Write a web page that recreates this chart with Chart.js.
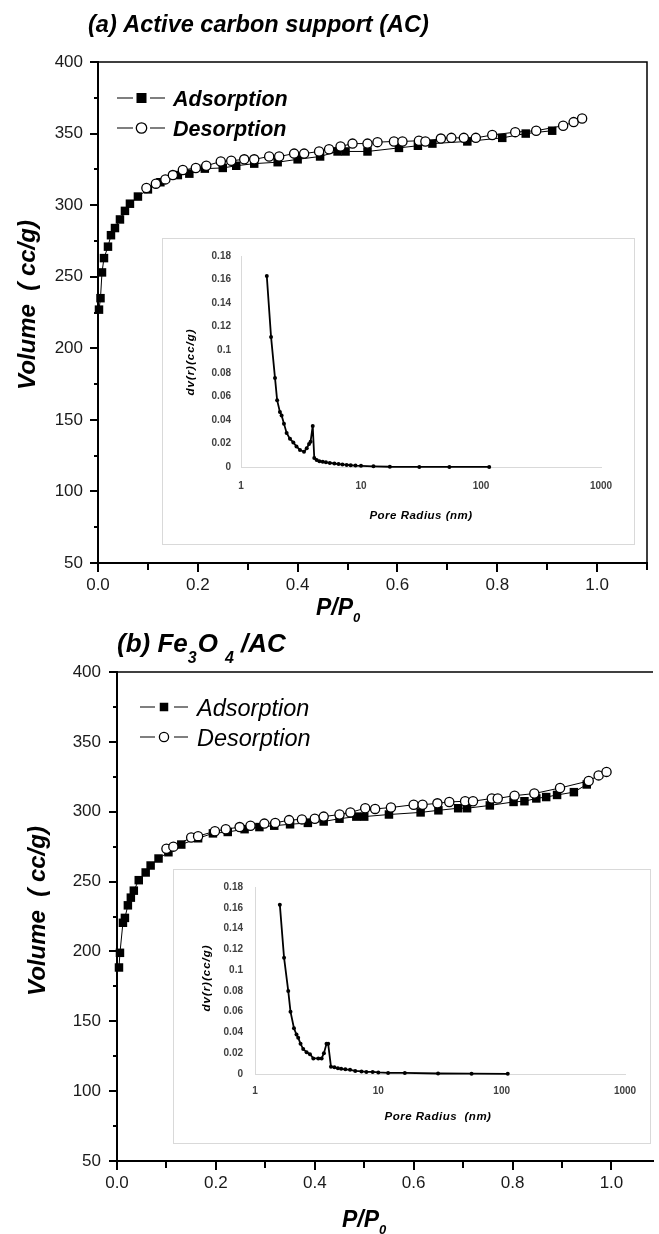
<!DOCTYPE html>
<html>
<head>
<meta charset="utf-8">
<title>N2 isotherms - AC and Fe3O4/AC</title>
<script src="https://cdn.jsdelivr.net/npm/chart.js@4.4.1/dist/chart.umd.min.js"></script>
<style>
  html, body { margin: 0; padding: 0; background: #fff; }
  #page { position: relative; width: 659px; height: 1234px; overflow: hidden; background: #fff; }
  canvas { position: absolute; }
</style>
</head>
<body>
<div id="page">
  <canvas id="mainA" width="659" height="640" style="left:0;top:0"></canvas>
  <canvas id="insetA" width="473" height="307" style="left:162px;top:238px"></canvas>
  <canvas id="mainB" width="659" height="617" style="left:0;top:617px"></canvas>
  <canvas id="insetB" width="478" height="275" style="left:173px;top:869px"></canvas>
</div>
<script>
// series names + tick labels
const seriesNames = ["Adsorption", "Desorption"];
const xTickLabels = ["0.0", "0.2", "0.4", "0.6", "0.8", "1.0"];
const volumeTicks = [50, 100, 150, 200, 250, 300, 350, 400];
const radiusTicks = [1, 10, 100, 1000];
const dvTickLabels = ["0", "0.02", "0.04", "0.06", "0.08", "0.1", "0.12", "0.14", "0.16", "0.18"];

// (a) active carbon - isotherm
const adsA_P = [0.002, 0.005, 0.008, 0.012, 0.02, 0.026, 0.034, 0.044, 0.054, 0.064, 0.08, 0.1, 0.125, 0.16, 0.183, 0.214, 0.25, 0.277, 0.313, 0.36, 0.40, 0.445, 0.48, 0.496, 0.54, 0.603, 0.641, 0.67, 0.74, 0.81, 0.857, 0.91];
const adsA_V = [227, 235, 253, 263, 271, 279, 284, 290, 296, 301, 306, 311, 316, 321, 322, 325.5, 326, 327.5, 329, 330, 332, 334, 337.5, 337.5, 337.5, 340, 341.5, 343, 344.5, 347, 350, 352];
const desA_P = [0.097, 0.116, 0.135, 0.15, 0.17, 0.196, 0.217, 0.246, 0.267, 0.293, 0.313, 0.343, 0.363, 0.393, 0.413, 0.443, 0.463, 0.486, 0.51, 0.54, 0.56, 0.593, 0.61, 0.643, 0.656, 0.687, 0.708, 0.733, 0.757, 0.79, 0.836, 0.878, 0.932, 0.953, 0.97];
const desA_V = [312, 315, 318, 321, 324.5, 326, 327.5, 330.5, 331, 332, 332, 334, 334, 336, 336, 337.5, 339, 341, 343, 343, 344, 344.5, 344.5, 345, 344.5, 346.5, 347, 347, 347, 349, 351, 352, 355.5, 358, 360.5];

// (a) inset - pore size distribution
const insetA_R = [1.64, 1.78, 1.92, 2.0, 2.11, 2.18, 2.28, 2.4, 2.56, 2.73, 2.9, 3.1, 3.35, 3.53, 3.69, 3.8, 3.96, 4.08, 4.27, 4.5, 4.8, 5.1, 5.5, 6.0, 6.5, 7.0, 7.6, 8.2, 9.0, 10.0, 12.7, 17.4, 30.6, 54.5, 117];
const insetA_DV = [0.163, 0.111, 0.076, 0.057, 0.047, 0.044, 0.037, 0.029, 0.024, 0.021, 0.0175, 0.0145, 0.013, 0.016, 0.0196, 0.0216, 0.035, 0.0077, 0.006, 0.005, 0.0045, 0.004, 0.0035, 0.003, 0.0025, 0.0022, 0.0018, 0.0015, 0.0012, 0.001, 0.0006, 0.0002, 0.0001, 0.0001, 0.0001];

// (b) Fe3O4/AC - isotherm
const adsB_P = [0.004, 0.006, 0.012, 0.016, 0.022, 0.028, 0.034, 0.044, 0.058, 0.068, 0.084, 0.104, 0.13, 0.164, 0.194, 0.224, 0.258, 0.288, 0.318, 0.35, 0.386, 0.418, 0.45, 0.484, 0.5, 0.55, 0.614, 0.65, 0.69, 0.708, 0.754, 0.802, 0.824, 0.848, 0.868, 0.89, 0.924, 0.95];
const adsB_V = [188.5, 199, 220.5, 224, 233, 238.5, 243.5, 251, 256.5, 261.5, 266.5, 271, 276.5, 281, 284.5, 285.5, 287.5, 289, 290, 291, 292, 293, 295, 296.5, 296.5, 298, 299.5, 301, 302.5, 302.5, 304.5, 307, 307.5, 309.5, 310.5, 312, 314, 319.5];
const desB_P = [0.1, 0.114, 0.15, 0.164, 0.198, 0.22, 0.248, 0.27, 0.298, 0.32, 0.348, 0.374, 0.4, 0.418, 0.45, 0.472, 0.502, 0.522, 0.554, 0.6, 0.618, 0.648, 0.672, 0.704, 0.72, 0.758, 0.77, 0.804, 0.844, 0.896, 0.954, 0.974, 0.99];
const desB_V = [273.5, 275, 281.5, 282.5, 286, 287.5, 289, 290, 291.5, 292, 294, 294.5, 295, 296.5, 298, 299.5, 302.5, 302, 303, 305, 305, 306, 307, 307.5, 307.5, 309.5, 309.5, 311.5, 313, 317, 322, 326, 328.5];

// (b) inset
const insetB_R = [1.59, 1.72, 1.86, 1.94, 2.07, 2.17, 2.24, 2.34, 2.46, 2.62, 2.79, 2.97, 3.26, 3.47, 3.62, 3.8, 3.92, 4.13, 4.4, 4.7, 5.0, 5.4, 5.9, 6.5, 7.3, 8.0, 9.0, 10.0, 12.0, 16.4, 30.5, 57, 112];
const insetB_DV = [0.163, 0.112, 0.080, 0.060, 0.044, 0.038, 0.035, 0.029, 0.024, 0.021, 0.019, 0.015, 0.015, 0.015, 0.020, 0.029, 0.029, 0.007, 0.0065, 0.0055, 0.005, 0.0045, 0.004, 0.003, 0.0025, 0.002, 0.002, 0.0015, 0.001, 0.001, 0.0005, 0.0003, 0.0002];

const FONT = '"Liberation Sans", Arial, sans-serif';
const pts = (xs, ys) => xs.map((x, i) => ({ x, y: ys[i] }));

// text with subscripts, optionally rotated
function drawRich(ctx, item) {
  ctx.save();
  ctx.fillStyle = item.color || "#000";
  ctx.translate(item.x, item.y);
  if (item.rotate) ctx.rotate(item.rotate);
  if (item.spacing) ctx.letterSpacing = item.spacing;
  ctx.textBaseline = "alphabetic";
  ctx.textAlign = "left";
  let total = 0;
  const parts = item.parts.map(p => {
    ctx.font = p.sub ? item.subFont : item.font;
    const w = ctx.measureText(p.t).width + (p.gap || 0);
    total += w;
    return { ...p, w };
  });
  let cx = item.align === "center" ? -total / 2 : 0;
  parts.forEach(p => {
    ctx.font = p.sub ? item.subFont : item.font;
    ctx.fillText(p.t, cx, p.sub ? item.subDrop : 0);
    cx += p.w;
  });
  ctx.restore();
}

const textLayer = {
  id: "textLayer",
  beforeDraw(chart, args, o) {
    if (!o.boxed) return;
    const ctx = chart.ctx;
    ctx.save();
    ctx.fillStyle = "#fff";
    ctx.fillRect(0, 0, chart.width, chart.height);
    ctx.strokeStyle = "#d9d9d9";
    ctx.lineWidth = 1;
    ctx.strokeRect(0.5, 0.5, chart.width - 1, chart.height - 1);
    ctx.restore();
  },
  afterDraw(chart, args, o) {
    (o.items || []).forEach(it => drawRich(chart.ctx, it));
  }
};

// box top/right edge + major/minor ticks
const frameTicks = {
  id: "frameTicks",
  afterDraw(chart, args, o) {
    const { ctx, chartArea: a } = chart;
    const x = chart.scales.x, y = chart.scales.y;
    ctx.save();
    ctx.strokeStyle = "#000";
    ctx.lineWidth = 1.5;
    ctx.beginPath();
    ctx.moveTo(a.left, a.top);
    ctx.lineTo(a.right, a.top);
    if (o.rightEdge) ctx.lineTo(a.right, a.bottom);
    ctx.stroke();
    ctx.lineWidth = 2;
    ctx.beginPath();
    x.ticks.forEach(t => {
      const k = Math.round(t.value * 10);
      if (Math.abs(t.value * 10 - k) > 1e-6) return;
      const px = Math.round(x.getPixelForValue(t.value));
      ctx.moveTo(px, a.bottom);
      ctx.lineTo(px, a.bottom + (k % 2 === 0 ? 9 : 7));
    });
    y.ticks.forEach(t => {
      const py = Math.round(y.getPixelForValue(t.value));
      ctx.moveTo(a.left, py);
      ctx.lineTo(a.left - (volumeTicks.includes(t.value) ? 8 : 4), py);
    });
    ctx.stroke();
    ctx.restore();
  }
};

// legend: dash - marker - dash, then label
const legendMarks = {
  id: "legendMarks",
  afterDraw(chart, args, o) {
    const ctx = chart.ctx;
    ctx.save();
    o.rows.forEach((r, i) => {
      ctx.strokeStyle = "#000";
      ctx.lineWidth = 1.2;
      ctx.beginPath();
      ctx.moveTo(o.dash[0], r.y); ctx.lineTo(o.dash[1], r.y);
      ctx.moveTo(o.dash[2], r.y); ctx.lineTo(o.dash[3], r.y);
      ctx.stroke();
      if (i === 0) {
        ctx.fillStyle = "#000";
        ctx.fillRect(o.mx - o.sq / 2, r.y - o.sq / 2, o.sq, o.sq);
      } else {
        ctx.fillStyle = "#fff";
        ctx.lineWidth = 1.3;
        ctx.beginPath();
        ctx.arc(o.mx, r.y, o.cr, 0, Math.PI * 2);
        ctx.fill();
        ctx.stroke();
      }
      ctx.fillStyle = "#000";
      ctx.font = o.font;
      ctx.textBaseline = "alphabetic";
      ctx.fillText(seriesNames[i], o.tx, r.y + o.base);
    });
    ctx.restore();
  }
};

function isotherm(id, cfg) {
  return new Chart(document.getElementById(id), {
    type: "line",
    data: {
      datasets: [
        {
          label: seriesNames[0],
          data: pts(cfg.adsP, cfg.adsV),
          order: 1,
          borderColor: "#000",
          borderWidth: 1,
          pointStyle: "rect",
          pointRadius: cfg.sq,
          pointBackgroundColor: "#000",
          pointBorderWidth: 0,
          tension: 0,
          clip: false
        },
        {
          label: seriesNames[1],
          data: pts(cfg.desP, cfg.desV),
          order: 0,
          borderColor: "#000",
          borderWidth: 1,
          pointStyle: "circle",
          pointRadius: cfg.cr,
          pointBackgroundColor: "#fff",
          pointBorderColor: "#000",
          pointBorderWidth: 1.3,
          tension: 0,
          clip: false
        }
      ]
    },
    options: {
      responsive: false,
      animation: false,
      devicePixelRatio: 1,
      layout: { padding: { left: 0, top: cfg.top, right: cfg.right, bottom: 0 } },
      plugins: {
        legend: { display: false },
        tooltip: { enabled: false },
        frameTicks: { rightEdge: cfg.rightEdge },
        legendMarks: cfg.legend,
        textLayer: { items: cfg.texts }
      },
      scales: {
        x: {
          type: "linear",
          min: 0,
          max: cfg.xmax,
          afterFit: s => { s.height = cfg.xh; },
          grid: { display: false, drawTicks: false },
          border: { display: true, color: "#000", width: 2 },
          ticks: {
            stepSize: 0.1,
            includeBounds: false,
            autoSkip: false,
            maxRotation: 0,
            padding: cfg.xpad,
            color: "#1a1a1a",
            font: { family: FONT, size: 17 },
            callback: v => {
              const k = Math.round(v * 10);
              return (Math.abs(v * 10 - k) < 1e-6 && k % 2 === 0 && k <= 10) ? xTickLabels[k / 2] : "";
            }
          }
        },
        y: {
          min: 50,
          max: 400,
          afterFit: s => { s.width = cfg.yw; },
          grid: { display: false, drawTicks: false },
          border: { display: true, color: "#000", width: 2 },
          ticks: {
            stepSize: 25,
            autoSkip: false,
            padding: cfg.ypad,
            color: "#1a1a1a",
            font: { family: FONT, size: 17 },
            callback: v => volumeTicks.includes(v) ? String(v) : ""
          }
        }
      }
    },
    plugins: [frameTicks, legendMarks, textLayer]
  });
}

function poreInset(id, cfg) {
  return new Chart(document.getElementById(id), {
    type: "line",
    data: {
      datasets: [{
        data: pts(cfg.r, cfg.dv),
        borderColor: "#000",
        borderWidth: 1.8,
        pointRadius: 2,
        pointBackgroundColor: "#000",
        pointBorderWidth: 0,
        tension: 0,
        clip: false
      }]
    },
    options: {
      responsive: false,
      animation: false,
      devicePixelRatio: 1,
      layout: { padding: { left: 0, top: cfg.top, right: cfg.right, bottom: 0 } },
      plugins: {
        legend: { display: false },
        tooltip: { enabled: false },
        textLayer: { boxed: true, items: cfg.texts }
      },
      scales: {
        x: {
          type: "logarithmic",
          min: 1,
          max: 1000,
          afterBuildTicks: s => { s.ticks = radiusTicks.map(v => ({ value: v })); },
          afterFit: s => { s.height = cfg.xh; },
          grid: { display: false, drawTicks: false },
          border: { display: true, color: "#d9d9d9", width: 1 },
          ticks: {
            autoSkip: false,
            maxRotation: 0,
            padding: cfg.xpad,
            color: "#404040",
            font: { family: FONT, size: 10, weight: "bold" },
            callback: v => String(v)
          }
        },
        y: {
          min: 0,
          max: 0.18,
          afterFit: s => { s.width = cfg.yw; },
          grid: { display: false, drawTicks: false },
          border: { display: true, color: "#d9d9d9", width: 1 },
          ticks: {
            stepSize: 0.02,
            autoSkip: false,
            padding: cfg.ypad,
            color: "#404040",
            font: { family: FONT, size: 10, weight: "bold" },
            callback: v => dvTickLabels[Math.round(v / 0.02)]
          }
        }
      }
    },
    plugins: [textLayer]
  });
}

const bi = s => `italic bold ${s}px ${FONT}`;

isotherm("mainA", {
  adsP: adsA_P, adsV: adsA_V, desP: desA_P, desV: desA_V,
  sq: 6, cr: 4.6,
  top: 62, right: 11, xmax: 1.1, xh: 77, yw: 98, xpad: 12, ypad: 15, rightEdge: true,
  legend: {
    rows: [{ y: 98 }, { y: 128 }],
    dash: [117, 133, 150, 165], mx: 141.5, sq: 10, cr: 5.2,
    tx: 173, base: 8, font: bi(21.5)
  },
  texts: [
    { x: 88, y: 32, font: bi(23.5), parts: [{ t: "(a) Active carbon support (AC)" }] },
    { x: 35, y: 305, rotate: -Math.PI / 2, align: "center", font: bi(24), parts: [{ t: "Volume  ( cc/g)" }] },
    { x: 316, y: 615, font: bi(23), subFont: bi(13), subDrop: 7, parts: [{ t: "P/P" }, { t: "0", sub: true }] }
  ]
});

poreInset("insetA", {
  r: insetA_R, dv: insetA_DV,
  top: 18, right: 34, xh: 78, yw: 79, xpad: 13, ypad: 10,
  texts: [
    { x: 32, y: 124, rotate: -Math.PI / 2, align: "center", spacing: "1px", font: bi(11.5), parts: [{ t: "dv(r)(cc/g)" }] },
    { x: 259, y: 281, align: "center", spacing: "0.5px", font: bi(11.5), parts: [{ t: "Pore Radius (nm)" }] }
  ]
});

isotherm("mainB", {
  adsP: adsB_P, adsV: adsB_V, desP: desB_P, desV: desB_V,
  sq: 6, cr: 4.6,
  top: 55, right: 0, xmax: 1.084, xh: 73, yw: 117, xpad: 12, ypad: 16, rightEdge: false,
  legend: {
    rows: [{ y: 90 }, { y: 120 }],
    dash: [140, 155, 174, 188], mx: 164, sq: 8.5, cr: 4.6,
    tx: 197, base: 8.5, font: `italic 23.5px ${FONT}`
  },
  texts: [
    { x: 117, y: 35, font: bi(26), subFont: bi(16), subDrop: 11,
      parts: [{ t: "(b) Fe" }, { t: "3", sub: true, gap: 1 }, { t: "O", gap: 7 }, { t: "4", sub: true }, { t: " /AC" }] },
    { x: 45, y: 294, rotate: -Math.PI / 2, align: "center", font: bi(24), parts: [{ t: "Volume  ( cc/g)" }] },
    { x: 342, y: 610, font: bi(23), subFont: bi(13), subDrop: 7, parts: [{ t: "P/P" }, { t: "0", sub: true }] }
  ]
});

poreInset("insetB", {
  r: insetB_R, dv: insetB_DV,
  top: 14, right: 26, xh: 70, yw: 82, xpad: 11, ypad: 12,
  texts: [
    { x: 37, y: 109, rotate: -Math.PI / 2, align: "center", spacing: "1px", font: bi(11.5), parts: [{ t: "dv(r)(cc/g)" }] },
    { x: 265, y: 251, align: "center", spacing: "0.5px", font: bi(11.5), parts: [{ t: "Pore Radius  (nm)" }] }
  ]
});
</script>
</body>
</html>
